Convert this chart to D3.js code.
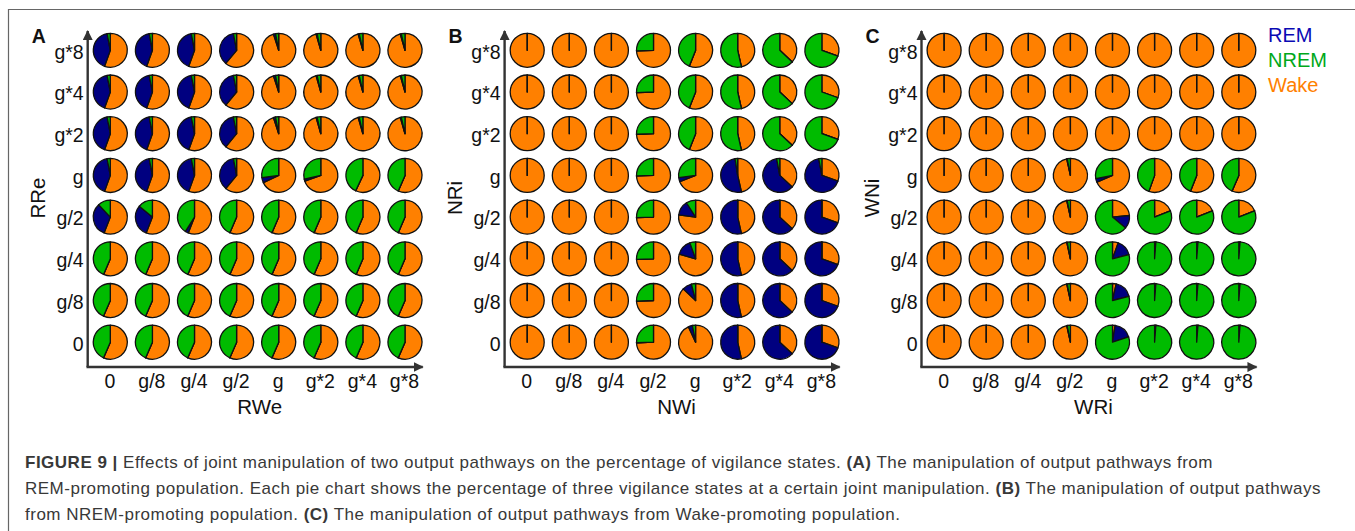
<!DOCTYPE html>
<html>
<head>
<meta charset="utf-8">
<script src="https://cdn.jsdelivr.net/npm/d3@7"></script>
<style>
  html, body { margin: 0; padding: 0; background: #fff; }
  svg { display: block; font-family: "Liberation Sans", Arial, Helvetica, sans-serif; }
</style>
</head>
<body>
<svg id="fig" width="1355" height="531"></svg>
<script>
"use strict";

// gain levels on both axes
const levels = ["0", "g/8", "g/4", "g/2", "g", "g*2", "g*4", "g*8"];

// rows listed top to bottom (g*8 ... 0), columns left to right (0 ... g*8); values in %
const wakeA = [
  [55.5, 55.5, 55.5, 61, 95, 95.5, 95.5, 95.5],
  [55.5, 55.5, 55.5, 61, 95, 95.5, 95.5, 95.5],
  [55.5, 55.5, 55.5, 61, 95, 95.5, 95.5, 95.5],
  [55.5, 55.5, 55.5, 61, 68, 69.5, 57, 56.5],
  [56, 56, 56, 56.5, 56.5, 56.5, 56.5, 56.5],
  [56.5, 56.5, 56.5, 56.5, 56.5, 56.5, 56.5, 56.5],
  [56.5, 56.5, 56.5, 56.5, 56.5, 56.5, 56.5, 56.5],
  [56.5, 56.5, 56.5, 56.5, 56.5, 56.5, 56.5, 56.5]
];
const remA = [
  [41.5, 41.5, 41.5, 36, 2, 1, 1, 1],
  [41.5, 41.5, 41.5, 36, 2, 1, 1, 1],
  [41.5, 41.5, 41.5, 36, 2, 1, 1, 1],
  [41.5, 41.5, 41.5, 36, 5, 2, 0, 0],
  [32, 30, 3, 0, 0, 0, 0, 0],
  [0, 0, 0, 0, 0, 0, 0, 0],
  [0, 0, 0, 0, 0, 0, 0, 0],
  [0, 0, 0, 0, 0, 0, 0, 0]
];
const nremA = [
  [3, 3, 3, 3, 3, 3.5, 3.5, 3.5],
  [3, 3, 3, 3, 3, 3.5, 3.5, 3.5],
  [3, 3, 3, 3, 3, 3.5, 3.5, 3.5],
  [3, 3, 3, 3, 27, 28.5, 43, 43.5],
  [12, 14, 41, 43.5, 43.5, 43.5, 43.5, 43.5],
  [43.5, 43.5, 43.5, 43.5, 43.5, 43.5, 43.5, 43.5],
  [43.5, 43.5, 43.5, 43.5, 43.5, 43.5, 43.5, 43.5],
  [43.5, 43.5, 43.5, 43.5, 43.5, 43.5, 43.5, 43.5]
];

const wakeB = [
  [100, 100, 100, 74.5, 56, 46.5, 37, 30.5],
  [100, 100, 100, 74.5, 56, 46.5, 37, 30.5],
  [100, 100, 100, 74.5, 56, 46.5, 37, 30.5],
  [100, 100, 100, 74.5, 69, 46.5, 37, 30.5],
  [100, 100, 100, 74.5, 77, 46.5, 37, 30.5],
  [100, 100, 100, 74.5, 79.5, 46.5, 37, 30.5],
  [100, 100, 100, 74.5, 87, 46.5, 37, 30.5],
  [100, 100, 100, 74.5, 93, 46.5, 37, 30.5]
];
const remB = [
  [0, 0, 0, 0, 0, 0, 0, 0],
  [0, 0, 0, 0, 0, 0, 0, 0],
  [0, 0, 0, 0, 0, 0, 0, 0],
  [0, 0, 0, 0, 4, 51, 60, 66.5],
  [0, 0, 0, 0, 14, 53.5, 63, 69.5],
  [0, 0, 0, 0, 15, 53.5, 63, 69.5],
  [0, 0, 0, 0, 9, 53.5, 63, 69.5],
  [0, 0, 0, 0, 4, 53.5, 63, 69.5]
];
const nremB = [
  [0, 0, 0, 25.5, 44, 53.5, 63, 69.5],
  [0, 0, 0, 25.5, 44, 53.5, 63, 69.5],
  [0, 0, 0, 25.5, 44, 53.5, 63, 69.5],
  [0, 0, 0, 25.5, 27, 2.5, 3, 3],
  [0, 0, 0, 25.5, 9, 0, 0, 0],
  [0, 0, 0, 25.5, 5.5, 0, 0, 0],
  [0, 0, 0, 25.5, 4, 0, 0, 0],
  [0, 0, 0, 25.5, 3, 0, 0, 0]
];

const wakeC = [
  [100, 100, 100, 100, 100, 100, 100, 100],
  [100, 100, 100, 100, 100, 100, 100, 100],
  [100, 100, 100, 100, 100, 100, 100, 100],
  [100, 100, 100, 96.5, 68.5, 55.5, 56, 56.5],
  [100, 100, 100, 96.5, 23.5, 19, 19, 19],
  [100, 100, 100, 96.5, 5.5, 1.2, 1.2, 1.2],
  [100, 100, 100, 96.5, 3.5, 1.2, 1.2, 1.2],
  [100, 100, 100, 96.5, 2.5, 1.2, 1.2, 1.2]
];
const remC = [
  [0, 0, 0, 0, 0, 0, 0, 0],
  [0, 0, 0, 0, 0, 0, 0, 0],
  [0, 0, 0, 0, 0, 0, 0, 0],
  [0, 0, 0, 0.5, 3.5, 0, 0, 0],
  [0, 0, 0, 0.5, 12.5, 0, 0, 0],
  [0, 0, 0, 0.5, 15.5, 0, 0, 0],
  [0, 0, 0, 0.5, 17.5, 0, 0, 0],
  [0, 0, 0, 0.5, 17.5, 0, 0, 0]
];
const nremC = [
  [0, 0, 0, 0, 0, 0, 0, 0],
  [0, 0, 0, 0, 0, 0, 0, 0],
  [0, 0, 0, 0, 0, 0, 0, 0],
  [0, 0, 0, 3, 28, 44.5, 44, 43.5],
  [0, 0, 0, 3, 64, 81, 81, 81],
  [0, 0, 0, 3, 79, 98.8, 98.8, 98.8],
  [0, 0, 0, 3, 79, 98.8, 98.8, 98.8],
  [0, 0, 0, 3, 80, 98.8, 98.8, 98.8]
];

const panels = [
  { letter: "A", xTitle: "RWe", yTitle: "RRe", wake: wakeA, rem: remA, nrem: nremA },
  { letter: "B", xTitle: "NWi", yTitle: "NRi", wake: wakeB, rem: remB, nrem: nremB },
  { letter: "C", xTitle: "WRi", yTitle: "WNi", wake: wakeC, rem: remC, nrem: nremC }
];

const states = ["REM", "NREM", "Wake"];
const stateColor = { Wake: "#ff8000", REM: "#000080", NREM: "#00bb00" };
const legendColor = { REM: "#0a0ab4", NREM: "#00a81a", Wake: "#ff8000" };

const captionLines = [
  [["FIGURE 9 | ", true], ["Effects of joint manipulation of two output pathways on the percentage of vigilance states. ", false], ["(A)", true], [" The manipulation of output pathways from", false]],
  [["REM-promoting population. Each pie chart shows the percentage of three vigilance states at a certain joint manipulation. ", false], ["(B)", true], [" The manipulation of output pathways", false]],
  [["from NREM-promoting population. ", false], ["(C)", true], [" The manipulation of output pathways from Wake-promoting population.", false]]
];

const svg = d3.select("#fig");
const axisColor = "#333";

// frame
svg.append("path")
  .attr("d", "M8.5,531 L8.5,9.5 L1355,9.5")
  .attr("fill", "none").attr("stroke", "#666").attr("stroke-width", 1.2);

const defs = svg.append("defs");
defs.append("marker")
  .attr("id", "arrow")
  .attr("viewBox", "0 0 10 10")
  .attr("refX", 9).attr("refY", 5)
  .attr("markerWidth", 4.2).attr("markerHeight", 4.2)
  .attr("markerUnits", "strokeWidth")
  .attr("orient", "auto")
  .append("path").attr("d", "M0,0 L10,5 L0,10 Z").attr("fill", axisColor);

const radius = 17;
const colStep = 42.1;
const rowStep = 41.7;
const panelStep = 416.9;
const top0 = 50.3;
const baseY = 367;

const pie = d3.pie().sort(null).value((d) => d.v);
const arc = d3.arc().innerRadius(0).outerRadius(radius);

panels.forEach((p, pi) => {
  const c0 = 110.3 + pi * panelStep;
  const axisX = c0 - 22.6;

  const x = d3.scalePoint().domain(levels).range([c0, c0 + 7 * colStep]);
  const y = d3.scalePoint().domain(levels.slice().reverse()).range([top0, top0 + 7 * rowStep]);

  const g = svg.append("g").attr("class", "panel");

  // axis arrows
  g.append("line")
    .attr("x1", axisX).attr("y1", baseY).attr("x2", axisX).attr("y2", 31)
    .attr("stroke", axisColor).attr("stroke-width", 2.4).attr("marker-end", "url(#arrow)");
  g.append("line")
    .attr("x1", axisX - 1.2).attr("y1", baseY).attr("x2", axisX + 335).attr("y2", baseY)
    .attr("stroke", axisColor).attr("stroke-width", 2.4).attr("marker-end", "url(#arrow)");

  // tick labels
  const xAxis = d3.axisBottom(x).tickSize(0).tickPadding(7);
  g.append("g").attr("transform", `translate(-1,${baseY})`).call(xAxis)
    .call((s) => s.select(".domain").remove())
    .selectAll("text").attr("font-size", 19.5).attr("font-family", null).attr("fill", "#111");

  const yAxis = d3.axisLeft(y).tickSize(0).tickPadding(4);
  g.append("g").attr("transform", `translate(${axisX},0)`).call(yAxis)
    .call((s) => s.select(".domain").remove())
    .selectAll("text").attr("font-size", 19.5).attr("font-family", null).attr("fill", "#111").attr("dy", "0.4em");

  // titles
  g.append("text")
    .attr("x", (c0 + c0 + 7 * colStep) / 2 + 2).attr("y", 414)
    .attr("text-anchor", "middle").attr("font-size", 20.5).attr("fill", "#111")
    .text(p.xTitle);
  g.append("text")
    .attr("transform", `translate(${axisX - 43},198) rotate(-90)`)
    .attr("text-anchor", "middle").attr("font-size", 20.5).attr("fill", "#111")
    .text(p.yTitle);
  g.append("text")
    .attr("x", axisX - 56).attr("y", 43)
    .attr("font-size", 19.5).attr("font-weight", "bold").attr("fill", "#111")
    .text(p.letter);

  // pies
  const cells = [];
  p.wake.forEach((row, ri) => {
    row.forEach((w, ci) => {
      cells.push({
        row: levels[7 - ri],
        col: levels[ci],
        slices: [
          { key: "Wake", v: w },
          { key: "REM", v: p.rem[ri][ci] },
          { key: "NREM", v: p.nrem[ri][ci] }
        ]
      });
    });
  });

  const pies = g.selectAll(".pie").data(cells).join("g")
    .attr("class", "pie")
    .attr("transform", (d) => `translate(${x(d.col)},${y(d.row)})`);

  pies.selectAll("path").data((d) => pie(d.slices)).join("path")
    .attr("d", arc)
    .attr("fill", (d) => stateColor[d.data.key])
    .attr("stroke", "#111")
    .attr("stroke-width", 1.3)
    .attr("stroke-linejoin", "round");
});

// legend
svg.append("g").selectAll("text").data(states).join("text")
  .attr("x", 1268)
  .attr("y", (d, i) => 42 + i * 25)
  .attr("font-size", 20)
  .attr("fill", (d) => legendColor[d])
  .text((d) => d);

// caption
const cap = svg.append("g").attr("fill", "#383838").attr("font-size", 17).attr("letter-spacing", 0.5);
captionLines.forEach((line, i) => {
  const t = cap.append("text").attr("x", 25).attr("y", 468 + i * 25.8);
  line.forEach(([str, bold]) => {
    t.append("tspan").attr("font-weight", bold ? "bold" : null).text(str);
  });
});
</script>
</body>
</html>
